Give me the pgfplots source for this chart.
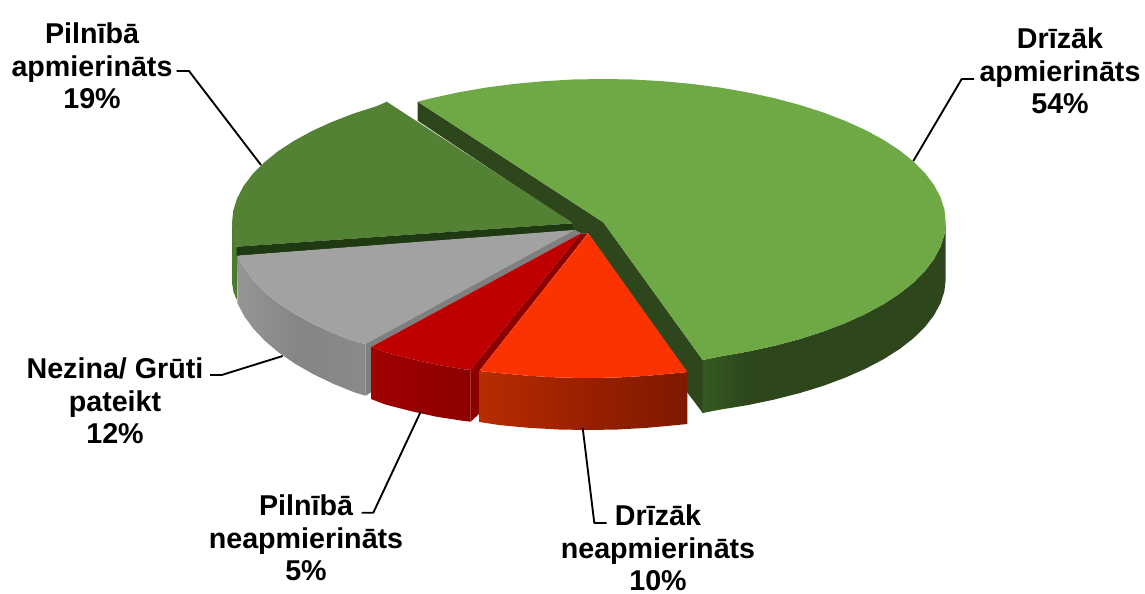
\documentclass[border=0pt]{standalone}
\usepackage{fontspec}
\setmainfont{Liberation Sans}
\usepackage{pgfplots}
\pgfplotsset{compat=1.18}
\definecolor{gtop}{HTML}{6FA946}
\definecolor{gwall}{HTML}{2D461C}
\definecolor{gwalll}{HTML}{355A20}
\definecolor{dtop}{HTML}{548235}
\definecolor{dstrip}{HTML}{1F3A12}
\definecolor{gr}{HTML}{A2A2A2}
\definecolor{grcut}{HTML}{7F7F7F}
\definecolor{rtop}{HTML}{BE0000}
\definecolor{rcut}{HTML}{8C0000}
\definecolor{rwl}{HTML}{A00000}
\definecolor{otop}{HTML}{FA3300}
\definecolor{ol}{HTML}{B82C00}
\definecolor{om}{HTML}{992000}
\definecolor{or}{HTML}{7E1A00}
\tikzset{lab/.style={font=\fontsize{21.5}{24.5}\selectfont\bfseries, align=center, inner sep=0pt, text=black}}
\begin{document}
\begin{tikzpicture}
\begin{axis}[
  scale only axis, width=858.75pt, height=444.75pt,
  xmin=0, xmax=1145, ymin=0, ymax=593, y dir=reverse,
  hide axis, clip=false,
  every axis plot/.append style={no markers, draw=none, line join=round},
]
\path (axis cs:0,0) rectangle (axis cs:1145,593);
% green outer wall
\addplot[fill=gwall] coordinates {
 (747,351.6)(747.8,351.6)(774.4,345.8)(799.6,339.1)(823.3,331.5)(845.3,323.1)(865.5,313.9)(883.7,304)(899.8,293.5)(913.6,282.4)(925,270.9)(934,259)(940.5,246.8)(944.4,234.5)(945.7,222)
 (945.7,279)(944.4,291.3)(940.5,303.3)(934,315.2)(925,326.9)(913.6,338.1)(899.8,348.9)(883.7,359.1)(865.5,368.7)(845.3,377.6)(823.3,385.8)(799.6,393.1)(774.4,399.5)(747.8,405.1)(747,405.2)};
\addplot[left color=gwalll, right color=gwall] coordinates {
 (702.7,360)(720.2,356.4)(747.8,351.6)(747.8,405.1)(720.2,409.6)(702.7,413)};
% green cut wall
\addplot[fill=gwall] coordinates {
 (417.7,101.7)(417.7,120.7)(573,224)(574.3,230)(581,233.3)(588,233.3)(686.7,371.7)(686.7,391.7)(702.7,413)(702.7,360)(603.3,222.3)};
% green top
\addplot[fill=gtop] coordinates {
 (417.7,101.7)(431.6,98.2)(458.2,92.4)(485.8,87.6)(514.3,83.9)(543.5,81.2)(573.1,79.5)(603,79)(632.9,79.5)(662.5,81.2)(691.7,83.9)(720.2,87.6)(747.8,92.4)(774.4,98.2)(799.6,104.9)(823.3,112.5)(845.3,120.9)(865.5,130.1)(883.7,140)(899.8,150.5)(913.6,161.6)(925,173.1)(934,185)(940.5,197.2)(944.4,209.5)(945.7,222)(944.4,234.5)(940.5,246.8)(934,259)(925,270.9)(913.6,282.4)(899.8,293.5)(883.7,304)(865.5,313.9)(845.3,323.1)(823.3,331.5)(799.6,339.1)(774.4,345.8)(747.8,351.6)(720.2,356.4)(702.7,360)(603.3,222.3)};
% dark green sliver, top, strip
\addplot[fill=dtop!93!black] coordinates {(232,223)(232,283)(233.5,292)(236.7,300)(238,256)(236.7,246.7)};
\addplot[fill=dtop] coordinates {
 (573.3,223.3)(386.7,101.7)(377.4,105.9)(353.8,113.5)(331.9,121.9)(311.8,131.1)(293.7,141)(277.7,151.5)(264,162.6)(252.6,174.1)(243.6,186)(237.2,198.2)(233.3,210.5)(232,223)(233.3,235.5)(236.7,246.7)};
\addplot[fill=dstrip] coordinates {(573.3,223.3)(574.3,230.5)(236.7,256)(236.7,246.7)};
% gray
\addplot[left color=gr!92!black, right color=gr!85!black, middle color=gr!82!black] coordinates {
 (237.3,255.7)(244.6,269)(253.6,280.9)(265,292.4)(278.7,303.5)(294.7,314)(312.8,323.9)(332.9,333.1)(354.8,341.5)(365.7,344)
 (365.7,395.7)(354.8,392.5)(332.9,383.6)(312.8,373.9)(294.7,363.5)(278.7,352.5)(265,340.9)(253.6,329)(244.6,316.7)(237.3,303)};
\addplot[fill=gr] coordinates {
 (574.3,230)(237.3,255.7)(244.6,269)(253.6,280.9)(265,292.4)(278.7,303.5)(294.7,314)(312.8,323.9)(332.9,333.1)(354.8,341.5)(365.7,344)};
\addplot[fill=grcut] coordinates {(574.3,230)(581,233.3)(371.7,346.7)(371.7,391.7)(365.7,395.7)(365.7,344)};
% red
\addplot[left color=rwl, right color=rcut] coordinates {
 (371.7,346.7)(385.4,352.1)(410.5,358.8)(436.9,364.6)(464.4,369.4)(470.7,369.8)
 (470.7,421.7)(464.4,421)(436.9,416.8)(410.5,411)(385.4,404.5)(371.7,399.3)};
\addplot[fill=rcut] coordinates {(581,233.3)(470.7,369.8)(470.7,421.7)(480,413)(480,370)(588,233.3)};
\addplot[fill=rtop] coordinates {(581,233.3)(371.7,346.7)(385.4,352.1)(410.5,358.8)(436.9,364.6)(464.4,369.4)(470.7,369.8)};
% orange
\addplot[left color=ol, right color=or, middle color=om] coordinates {
 (479.3,371)(499.7,373.1)(528.8,375.8)(558.3,377.5)(588,378)(617.7,377.5)(647.2,375.8)(676.3,373.1)(687.3,372)
 (687.3,424)(676.3,425.1)(647.2,427.8)(617.7,429.5)(588,430)(558.3,429.5)(528.8,427.8)(499.7,425.1)(479.3,422)};
\addplot[fill=otop] coordinates {
 (588.3,233.3)(479.3,371)(499.7,373.1)(528.8,375.8)(558.3,377.5)(588,378)(617.7,377.5)(647.2,375.8)(676.3,373.1)(687.3,372)};
% leader lines
\addplot[draw=black, line width=1.4pt] coordinates {(974,79)(961.7,79)(913.3,161)};
\addplot[draw=black, line width=1.4pt] coordinates {(176.7,71)(189,71)(261,165)};
\addplot[draw=black, line width=1.4pt] coordinates {(210,375)(221.7,375)(282.7,356)};
\addplot[draw=black, line width=1.4pt] coordinates {(361.7,512.7)(373.3,512.7)(420.7,411.7)};
\addplot[draw=black, line width=1.4pt] coordinates {(606.7,523)(594.3,523)(582.7,428)};
% labels
\node[lab] at (axis cs:1060,71) {Drīzāk\\apmierināts\\54\%};
\node[lab] at (axis cs:92,66) {Pilnībā\\apmierināts\\19\%};
\node[lab] at (axis cs:115,401) {Nezina/ Grūti\\pateikt\\12\%};
\node[lab] at (axis cs:306,538) {Pilnībā\\neapmierināts\\5\%};
\node[lab] at (axis cs:658,548) {Drīzāk\\neapmierināts\\10\%};
\end{axis}
\end{tikzpicture}
\end{document}
